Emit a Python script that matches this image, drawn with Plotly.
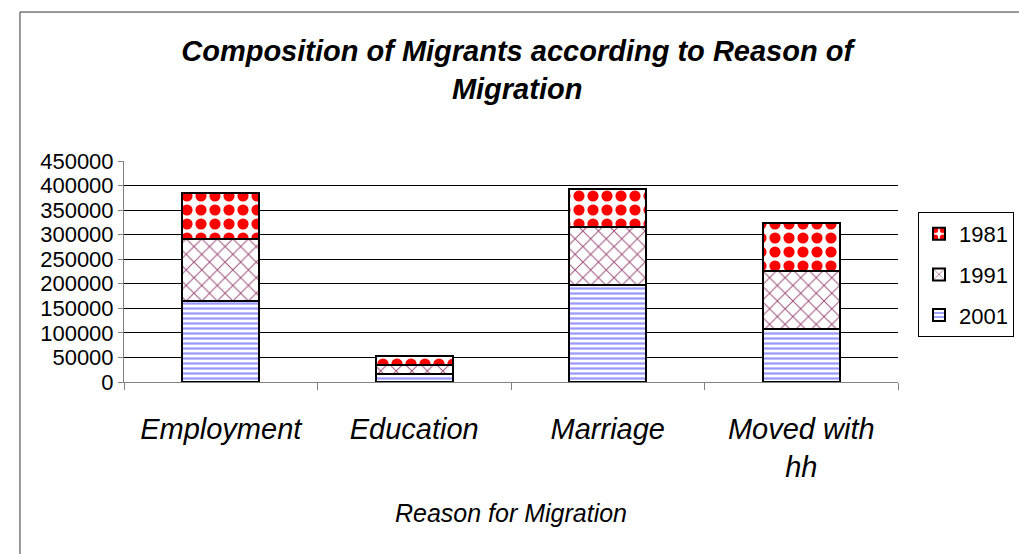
import plotly.graph_objects as go

categories = ["Employment", "Education", "Marriage", "Moved with<br>hh"]
years = ["2001", "1991", "1981"]
ranks = {"1981": 1, "1991": 2, "2001": 3}
v2001 = [165000, 15500, 197000, 108000]
v1991 = [125500, 19500, 118000, 118000]
v1981 = [94000, 17000, 77000, 97000]

FONT = "Liberation Sans, Arial, sans-serif"

patterns = {
    "2001": dict(shape="-", fgcolor="#9999FF", bgcolor="white", size=5, solidity=0.45, fillmode="overlay", fgopacity=1),
    "1991": dict(shape="x", fgcolor="#9E4F7C", bgcolor="white", size=11, solidity=0.17, fillmode="overlay", fgopacity=1),
    "1981": dict(shape=".", fgcolor="#FF0000", bgcolor="white", size=14, solidity=0.5, fillmode="overlay", fgopacity=1),
}
values = {"2001": v2001, "1991": v1991, "1981": v1981}

fig = go.Figure()
for y in years:
    fig.add_trace(go.Bar(
        x=categories, y=values[y], name=y, legendgroup=y, legendrank=ranks[y],
        marker=dict(color="white", line=dict(color="black", width=2), pattern=patterns[y]),
        width=0.4,
    ))

fig.update_layout(
    barmode="stack",
    width=1019, height=554,
    margin=dict(l=124, r=121, t=161, b=172, autoexpand=False),
    paper_bgcolor="white", plot_bgcolor="white",
    font=dict(family=FONT, color="black"),
    title=dict(
        text="<b><i>Composition of Migrants according to Reason of<br>Migration</i></b>",
        x=0.5075, xanchor="center", y=0.889, yanchor="middle",
        font=dict(size=29, family=FONT),
    ),
    showlegend=True,
    legend=dict(
        xref="container", yref="container",
        x=918 / 1019, xanchor="left", y=1 - 212 / 554, yanchor="top",
        bordercolor="black", borderwidth=1, bgcolor="white",
        font=dict(size=22, family=FONT),
        tracegroupgap=9, traceorder="grouped",
        itemwidth=30,
    ),
)

fig.update_yaxes(
    range=[0, 450000], dtick=50000, tickformat="d",
    showgrid=True, gridcolor="black", gridwidth=1,
    showline=True, linecolor="#808080", linewidth=1,
    ticks="outside", ticklen=5, tickcolor="#808080",
    tickfont=dict(size=22, family=FONT), zeroline=False,
)
fig.update_xaxes(
    showline=True, linecolor="#808080", linewidth=1,
    ticks="outside", tickson="boundaries", ticklen=7, tickcolor="#808080",
    tickfont=dict(size=29, family=FONT),
    ticklabelstandoff=21,
    title=dict(text="<i>Reason for Migration</i>", font=dict(size=25, family=FONT), standoff=22),
    tickangle=0,
)
fig.update_xaxes(ticktext=["<i>" + c + "</i>" for c in categories], tickvals=categories)

fig.add_shape(type="rect", xref="paper", yref="paper",
              x0=-0.1344, x1=1.3, y0=-1.0, y1=1.674,
              line=dict(color="#333333", width=1), fillcolor="rgba(0,0,0,0)", layer="below")

fig.write_html("out.html", config={"displayModeBar": False},
               post_script="document.body.style.margin='0';")
